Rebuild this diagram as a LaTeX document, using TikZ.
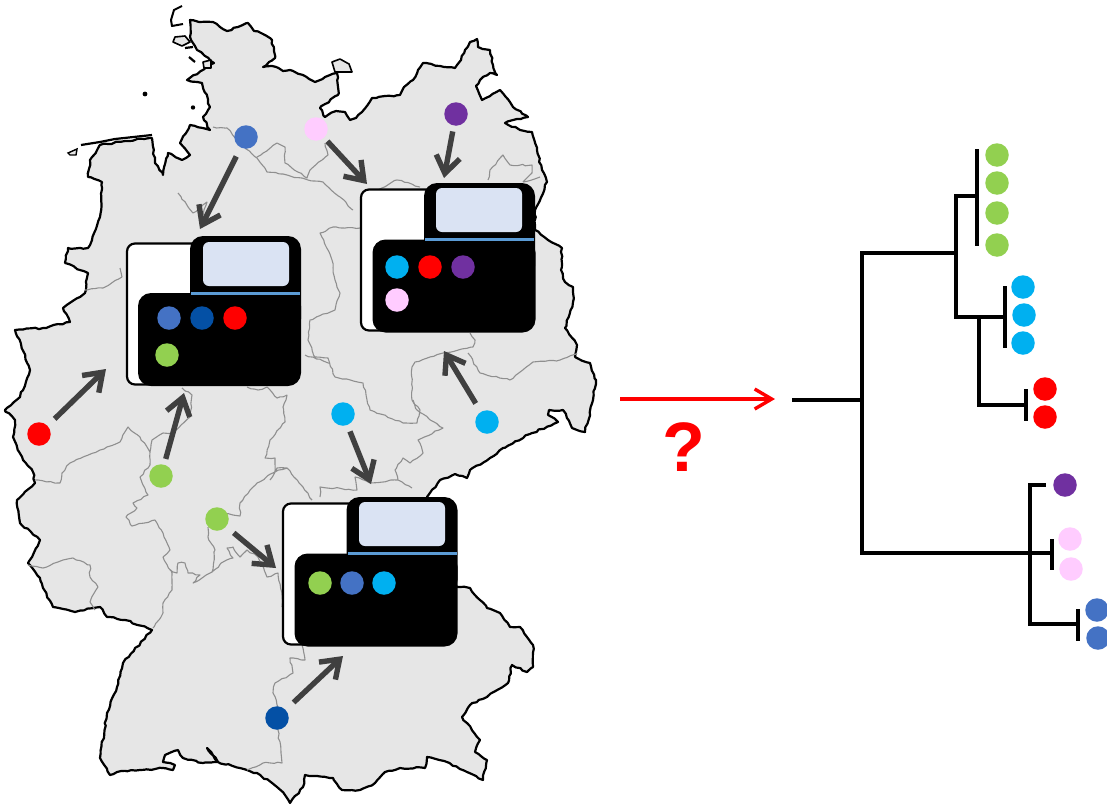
\documentclass[tikz,border=0pt]{standalone}
\usepackage{fontspec}
\setmainfont{Liberation Sans}
\usepackage{tikz}
\usetikzlibrary{arrows.meta,decorations.pathmorphing}
\definecolor{mapgrey}{HTML}{E6E6E6}
\definecolor{bordergrey}{HTML}{8F8F8F}
\definecolor{arrowgrey}{HTML}{404040}
\definecolor{cgreen}{HTML}{92D050}
\definecolor{ccyan}{HTML}{00B0F0}
\definecolor{cred}{HTML}{FF0000}
\definecolor{cblue}{HTML}{4472C4}
\definecolor{cnavy}{HTML}{0450A5}
\definecolor{cpurple}{HTML}{7030A0}
\definecolor{cpink}{HTML}{FFCCFF}
\definecolor{cwindow}{HTML}{DAE3F3}
\definecolor{cbar}{HTML}{5B9BD5}
\tikzstyle{dot} = [circle, inner sep=0pt, minimum size=23.5pt, node distance=33pt]
\tikzstyle{shell} = [draw, line width=2.2pt, fill=white, rounded corners=8pt, minimum width=100pt, minimum height=141pt]
\tikzstyle{blacktop} = [fill=black, rounded corners=13pt, minimum width=111pt, minimum height=96pt]
\tikzstyle{blackbase} = [fill=black, rounded corners=13pt, minimum width=163pt, minimum height=93pt]
\tikzstyle{window} = [fill=cwindow, rounded corners=6pt, minimum width=86pt, minimum height=44pt]
\tikzstyle{bar} = [fill=cbar, minimum width=109pt, minimum height=3pt, inner sep=0pt]
\tikzstyle{junction} = [coordinate]
\tikzstyle{flow} = [line width=5.4pt, draw=arrowgrey, -{Straight Barb[length=17pt,width=24pt,line width=5.4pt]}]
\tikzstyle{branch} = [line width=3.4pt, line cap=rect]
\tikzstyle{coast} = [decorate, decoration={random steps, segment length=4pt, amplitude=0.9pt}]
\tikzstyle{inland} = [decorate, decoration={random steps, segment length=4pt, amplitude=0.8pt}]
\begin{document}
\begin{tikzpicture}[x=1pt, y=-1pt, every node/.style={inner sep=0pt, outer sep=0pt}]
	\useasboundingbox (0,0) rectangle (1107,806);
	% The map comes first, everything else sits on it
	\filldraw [coast, fill=mapgrey, draw=black, line width=2.2pt, line join=round]
	(190,20) -- (199,22) -- (213,22) -- (220,27) -- (227,31) -- (238,27) -- (248,23) -- (254,31) -- (263,34) -- (272,40) -- (275,58) -- (263,67)
	-- (272,66) -- (283,71) -- (290,70) -- (303,75) -- (315,82) -- (325,77) -- (337,73) -- (338,95) -- (320,108) -- (325,117) -- (336,111) -- (345,112)
	-- (350,120) -- (356,118) -- (362,112) -- (372,98) -- (385,96) -- (400,95) -- (404,87) -- (413,80) -- (418,70) -- (423,63) -- (440,66) -- (455,68)
	-- (461,60) -- (465,50) -- (470,42) -- (477,39) -- (478,47) -- (490,50) -- (493,65) -- (497,75) -- (490,73) -- (480,80) -- (476,86) -- (482,100)
	-- (500,90) -- (505,96) -- (513,107) -- (528,117) -- (505,123) -- (520,130) -- (532,132) -- (537,150) -- (542,170) -- (547,182) -- (535,210)
	-- (535,230) -- (548,240) -- (562,248) -- (561,270) -- (565,282) -- (573,287) -- (573,302) -- (565,328) -- (577,345) -- (575,357) -- (590,363)
	-- (596,380) -- (593,400) -- (585,432) -- (572,428) -- (563,410) -- (549,410) -- (548,415) -- (558,422) -- (530,434) -- (503,448) -- (490,458)
	-- (470,470) -- (467,478) -- (455,474) -- (440,480) -- (427,497) -- (457,587) -- (470,588) -- (480,600) -- (487,608) -- (500,613) -- (510,627)
	-- (520,627) -- (533,645) -- (533,667) -- (527,672) -- (512,665) -- (508,683) -- (487,697) -- (470,705) -- (462,717) -- (480,740) -- (475,752)
	-- (487,760) -- (483,780) -- (467,772) -- (447,762) -- (427,757) -- (425,768) -- (400,768) -- (385,772) -- (375,783) -- (360,790) -- (342,790)
	-- (333,778) -- (305,775) -- (303,787) -- (290,803) -- (285,795) -- (277,787) -- (257,773) -- (240,768) -- (218,762) -- (207,748) -- (218,762)
	-- (203,763) -- (183,758) -- (178,750) -- (165,755) -- (163,762) -- (175,765) -- (173,770) -- (163,768) -- (140,770) -- (117,772) -- (110,775)
	-- (100,758) -- (107,713) -- (117,687)
	-- (123,663) -- (152,630) -- (125,620) -- (107,617) -- (100,607) -- (75,612) -- (53,607) -- (43,588) -- (40,578) -- (28,563) -- (40,540)
	-- (20,523) -- (17,500) -- (35,483) -- (33,472) -- (23,460) -- (13,437) -- (15,420) -- (5,410) -- (20,397) -- (30,370) -- (15,330) -- (43,328)
	-- (70,322) -- (63,308) -- (85,293) -- (88,273) -- (65,263) -- (68,248) -- (88,248) -- (100,217) -- (102,182) -- (88,177) -- (90,160)
	-- (100,145) -- (125,141) -- (152,138) -- (155,163) -- (163,175) -- (168,153) -- (182,160) -- (190,155) -- (180,143) -- (190,125) -- (210,130)
	-- (203,117) -- (210,107) -- (202,83) -- (187,80) -- (214,63) -- (197,50) -- (190,37) -- cycle;
	% islands
	\filldraw [fill=mapgrey, draw=black, line width=1.6pt, line join=round]
	(332,62) -- (340,59) -- (349,64) -- (352,72) -- (335,72) -- cycle
	(175,37) -- (185,36) -- (190,42) -- (182,46) -- (173,42) -- cycle
	(203,62) -- (211,60) -- (211,68) -- (204,68) -- cycle;
	\draw [line width=2pt, line join=round] (182,6) -- (174,10) -- (171,20) -- (172,26) -- (183,24);
	\draw [line width=2.2pt] (81,145) -- (100,142) -- (115,139) -- (152,135) (185,48) -- (193,47) (189,57) -- (195,62);
	\filldraw [fill=mapgrey, draw=black, line width=1.4pt] (68,153) -- (77,149) -- (76,155) -- (70,155) -- cycle;
	\fill (145,94) circle (2.4pt) (193,107.5) circle (2.2pt);
	% state borders
	\draw [inland, bordergrey, line width=1.1pt, line join=round]
	(213,127) -- (227,128) -- (240,143) -- (257,158) -- (267,172) -- (287,175) -- (308,180) -- (323,182) -- (340,197) -- (353,210)
	(257,157) -- (277,143) -- (285,147) -- (285,163) -- (307,178) -- (310,170) -- (328,155) -- (325,143)
	(360,200) -- (397,180) -- (420,187)
	(488,180) -- (490,170) -- (503,155) -- (510,165) -- (532,165) -- (532,173) -- (523,182)
	(523,182) -- (540,177)
	(360,228) -- (333,227) -- (320,233) -- (332,260) -- (335,280) -- (340,293) -- (335,310) -- (310,320) -- (308,340) -- (315,357) -- (328,358) -- (335,377)
	-- (363,383) -- (367,400) -- (370,410) -- (403,423) -- (417,423) -- (420,410) -- (412,400) -- (412,367) -- (415,362) -- (443,353) -- (473,347) -- (475,340) -- (470,333)
	(468,353) -- (480,373) -- (510,380) -- (533,362) -- (560,360) -- (577,353)
	(413,400) -- (417,410) -- (443,428) -- (418,440) -- (423,453) -- (410,463) -- (403,458) -- (395,470) -- (398,480) -- (412,488)
	(398,480) -- (370,483) -- (355,477) -- (357,490) -- (320,487) -- (320,497)
	(270,480) -- (277,468) -- (287,468) -- (303,487) -- (312,500)
	(120,268) -- (122,277) -- (103,288) -- (85,290)
	(178,193) -- (193,213) -- (207,202) -- (203,215)
	(305,355) -- (330,363)
	(247,387) -- (258,390) -- (267,387) -- (277,398)
	(182,388) -- (192,395) -- (190,417) -- (173,433) -- (163,433) -- (152,440) -- (150,452)
	(35,480) -- (60,483) -- (62,473) -- (70,463) -- (100,450) -- (120,442) -- (128,427) -- (140,437) -- (150,452) -- (150,465) -- (140,477) -- (148,495) -- (133,503) -- (137,508)
	-- (126,517) -- (132,526) -- (155,520) -- (163,533) -- (170,550) -- (163,557) -- (172,573) -- (172,590) -- (163,603) -- (163,613) -- (153,628)
	(170,570) -- (177,573) -- (178,563) -- (185,563) -- (188,573) -- (200,575) -- (193,583) -- (212,572) -- (215,550) -- (208,537) -- (208,527)
	(220,513) -- (233,515) -- (240,516) -- (240,503) -- (257,483) -- (275,472) -- (287,468)
	(275,472) -- (275,458) -- (265,458) -- (270,440) -- (285,422) -- (283,407) -- (287,395) -- (277,398)
	(212,572) -- (223,562) -- (233,558) -- (227,548) -- (233,547) -- (240,557) -- (247,550) -- (258,557) -- (267,577) -- (278,573) -- (282,593) -- (282,607)
	(302,645) -- (305,660) -- (290,658) -- (293,673) -- (275,683) -- (273,693) -- (278,707) -- (278,730) -- (282,763) -- (263,763) -- (247,770)
	(28,565) -- (43,568) -- (63,560) -- (73,558) -- (90,565) -- (90,577) -- (98,587) -- (90,602) -- (95,610);
	% sequencing machines and what they hold
	\node [shell] (shellA) at (177,314) {};
	\node [blacktop] (topA) at (245.5,284) {};
	\node [blackbase] (baseA) at (219.5,339.5) {};
	\node [window] (windowA) at (246,264) {};
	\node [bar] (barA) at (245.5,293) {};
	\node [dot, fill=cblue] (inA1) at (169,318) {};
	\node [dot, fill=cnavy, right of=inA1] (inA2) {};
	\node [dot, fill=cred, right of=inA2] (inA3) {};
	\node [dot, fill=cgreen] (inA4) at (167,355) {};
	\node [shell] (shellB) at (411,260) {};
	\node [blacktop] (topB) at (479.5,231) {};
	\node [blackbase] (baseB) at (454,286) {};
	\node [window] (windowB) at (479,210) {};
	\node [bar] (barB) at (479.5,239.5) {};
	\node [dot, fill=ccyan] (inB1) at (397,267) {};
	\node [dot, fill=cred, right of=inB1] (inB2) {};
	\node [dot, fill=cpurple, right of=inB2] (inB3) {};
	\node [dot, fill=cpink] (inB4) at (397,300) {};
	\node [shell] (shellC) at (333,574) {};
	\node [blacktop] (topC) at (402,545) {};
	\node [blackbase] (baseC) at (376,600) {};
	\node [window] (windowC) at (402,524) {};
	\node [bar] (barC) at (402,553.5) {};
	\node [dot, fill=cgreen] (inC1) at (320,583) {};
	\node [dot, fill=cblue, right of=inC1, node distance=32pt] (inC2) {};
	\node [dot, fill=ccyan, right of=inC2, node distance=32pt] (inC3) {};
	% samples on the map
	\node [dot, fill=cblue] (blue) at (246,137) {};
	\node [dot, fill=cpink] (pink) at (316,129) {};
	\node [dot, fill=cpurple] (purple) at (456,114) {};
	\node [dot, fill=cred] (red) at (39,434) {};
	\node [dot, fill=cgreen] (greenN) at (161,476) {};
	\node [dot, fill=cgreen] (greenS) at (217,519) {};
	\node [dot, fill=ccyan] (cyanW) at (343,414) {};
	\node [dot, fill=ccyan] (cyanE) at (487,422) {};
	\node [dot, fill=cnavy] (navy) at (277,718) {};
	\coordinate (tipblue) at (200,229);
	\coordinate (tippink) at (367,184);
	\coordinate (tippurple) at (444,178);
	\coordinate (tipred) at (106,369);
	\coordinate (tipgreenN) at (184,393);
	\coordinate (tipgreenS) at (276,568);
	\coordinate (tipcyanW) at (371,484);
	\coordinate (tipcyanE) at (444,351);
	\coordinate (tipnavy) at (343,656);
	\draw [flow, shorten <=10pt] (blue) -- (tipblue);
	\draw [flow, shorten <=5pt] (pink) -- (tippink);
	\draw [flow, shorten <=6pt] (purple) -- (tippurple);
	\draw [flow, shorten <=10pt] (red) -- (tipred);
	\draw [flow, shorten <=6pt] (greenN) -- (tipgreenN);
	\draw [flow, shorten <=10pt] (greenS) -- (tipgreenS);
	\draw [flow, shorten <=7pt] (cyanW) -- (tipcyanW);
	\draw [flow, shorten <=10pt] (cyanE) -- (tipcyanE);
	\draw [flow, shorten <=11pt] (navy) -- (tipnavy);
	% the red question
	\coordinate (askfrom) at (620,399);
	\coordinate (askto) at (775,399);
	\draw [cred, line width=3.4pt, -{Straight Barb[length=17pt,width=20pt,line width=3.4pt]}] (askfrom) -- (askto);
	\node [text=cred, font=\fontsize{70}{70}\selectfont\bfseries] (ask) at (684,447) {?};
	% tree leaves
	\node [dot, fill=cgreen] (lg1) at (997,155) {};
	\node [dot, fill=cgreen] (lg2) at (997,183) {};
	\node [dot, fill=cgreen] (lg3) at (997,213) {};
	\node [dot, fill=cgreen] (lg4) at (997,245) {};
	\node [dot, fill=ccyan] (lc1) at (1023,287) {};
	\node [dot, fill=ccyan] (lc2) at (1024,315) {};
	\node [dot, fill=ccyan] (lc3) at (1023,343) {};
	\node [dot, fill=cred] (lr1) at (1045,389) {};
	\node [dot, fill=cred] (lr2) at (1045,417) {};
	\node [dot, fill=cpurple] (lv1) at (1065,485) {};
	\node [dot, fill=cpink] (lp1) at (1070,539) {};
	\node [dot, fill=cpink] (lp2) at (1071,569) {};
	\node [dot, fill=cblue] (lb1) at (1097,610) {};
	\node [dot, fill=cblue] (lb2) at (1098,638) {};
	% tree branches
	\node [junction] (root) at (794,400) {};
	\node [junction] (top) at (862,400) {};
	\node [junction] (upper) at (956,253) {};
	\node [junction] (lower) at (1030,553) {};
	\node [junction] (gfork) at (977,196) {};
	\node [junction] (gup) at (977,151) {};
	\node [junction] (gdown) at (977,244) {};
	\node [junction] (cfork) at (1005,317) {};
	\node [junction] (cup) at (1005,288) {};
	\node [junction] (cdown) at (1005,346) {};
	\node [junction] (rsplit) at (979,317) {};
	\node [junction] (rfork) at (1026,405) {};
	\node [junction] (rup) at (1026,391) {};
	\node [junction] (rdown) at (1026,419) {};
	\node [junction] (vleaf) at (1044,485) {};
	\node [junction] (pfork) at (1052,553) {};
	\node [junction] (pup) at (1052,541) {};
	\node [junction] (pdown) at (1052,568) {};
	\node [junction] (bfork) at (1078,624) {};
	\node [junction] (bup) at (1078,611) {};
	\node [junction] (bdown) at (1078,639) {};
	\draw [branch] (root) -- (top);
	\draw [branch] (upper) -| (top) |- (pfork);
	\draw [branch] (gfork) -| (upper) |- (cfork);
	\draw [branch] (gup) -- (gdown);
	\draw [branch] (cup) -- (cdown);
	\draw [branch] (rsplit) |- (rfork);
	\draw [branch] (rup) -- (rdown);
	\draw [branch] (vleaf) -| (lower) |- (bfork);
	\draw [branch] (pup) -- (pdown);
	\draw [branch] (bup) -- (bdown);
\end{tikzpicture}
\end{document}
